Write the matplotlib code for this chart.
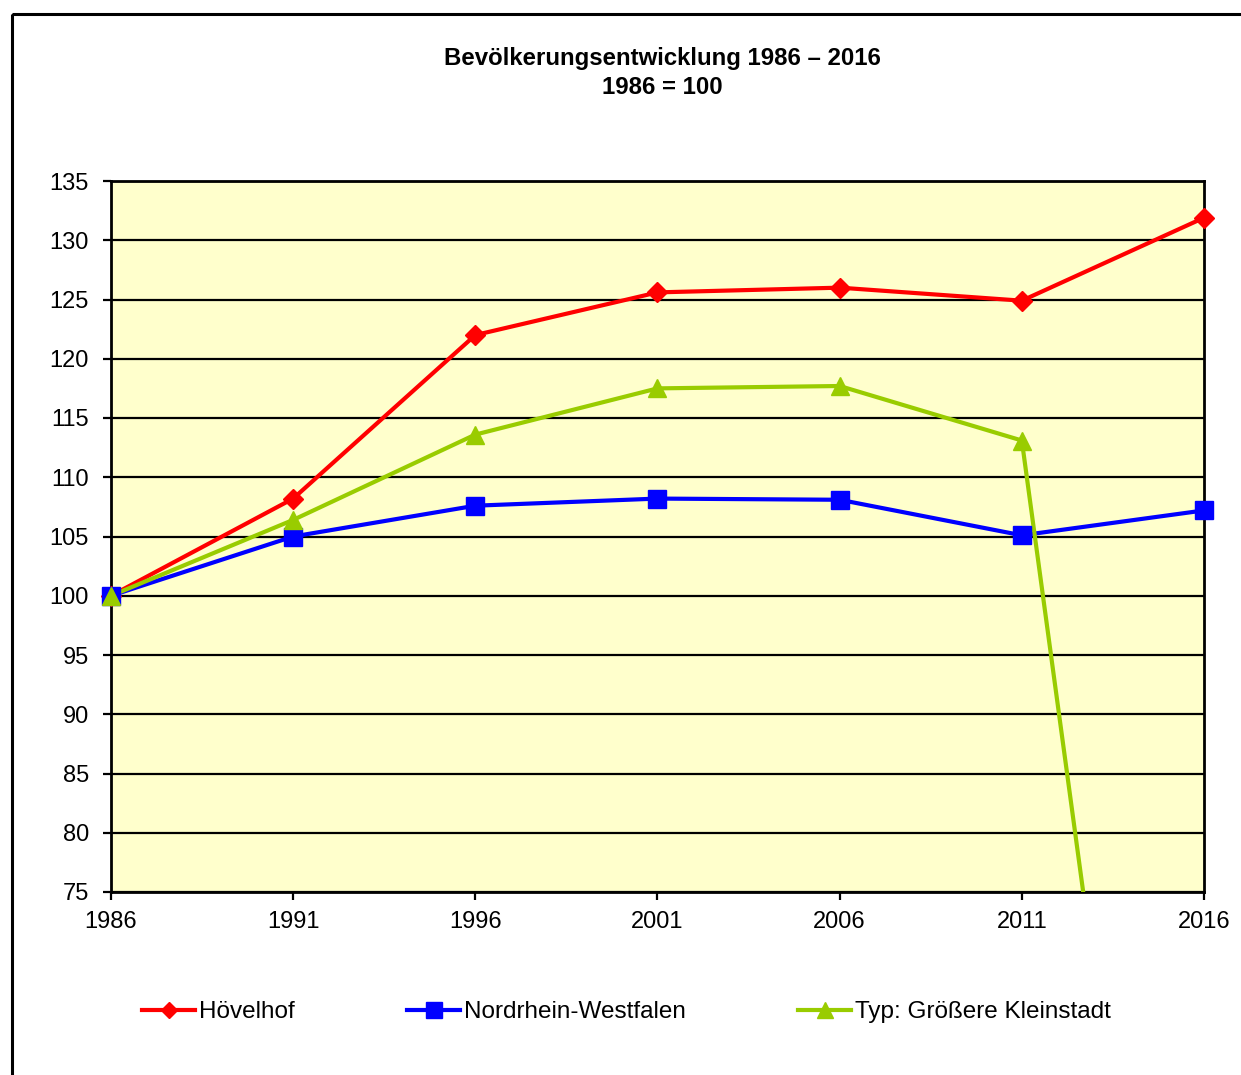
import matplotlib
matplotlib.use('Agg')
import matplotlib.pyplot as plt
from matplotlib.patches import Rectangle

plt.rcParams['font.family'] = ['Liberation Sans', 'DejaVu Sans']

years = [1986, 1991, 1996, 2001, 2006, 2011, 2016]
hoevelhof = [100, 108.2, 122.0, 125.6, 126.0, 124.9, 131.9]
nrw = [100, 105.0, 107.6, 108.2, 108.1, 105.1, 107.2]
kleinstadt = [100, 106.4, 113.6, 117.5, 117.7, 113.1, 0]  # 2016 missing -> 0 like in the source

W, H = 1241, 1075
fig = plt.figure(figsize=(W / 100, H / 100), dpi=100)

# outer frame (cut at the right and bottom edge)
fig.patches.append(Rectangle((12 / W, 1 - 14 / H), 2, -2, transform=fig.transFigure,
                             fill=False, edgecolor='black', linewidth=2.2))

ax = fig.add_axes([111 / W, 1 - 892 / H, (1204 - 111) / W, (892 - 181) / H])
ax.set_facecolor('#FFFFCC')
ax.set_xlim(1986, 2016)
ax.set_ylim(75, 135)

series = [
    (hoevelhof, '#FF0000', 'D', 10, 'Hövelhof'),
    (nrw, '#0000FF', 's', 13, 'Nordrhein-Westfalen'),
    (kleinstadt, '#99CC00', '^', 13, 'Typ: Größere Kleinstadt'),
]
handles = []
for vals, col, mk, ms, name in series:
    ax.plot(years, vals, color=col, lw=3, zorder=3)
    # markers only for points inside the axis range, not clipped at the edges
    inside = [(x, v) for x, v in zip(years, vals) if 75 <= v <= 135]
    ax.plot([p[0] for p in inside], [p[1] for p in inside], ls='none', marker=mk, ms=ms,
            color=col, clip_on=False, zorder=4)
    h, = ax.plot([], [], color=col, lw=3, marker=mk, ms=ms)
    handles.append((h, name))

ax.set_xticks(years)
ax.set_yticks(range(75, 136, 5))
ax.yaxis.grid(True, color='black', linewidth=1.6)
ax.set_axisbelow(True)
for sp in ax.spines.values():
    sp.set_linewidth(2)
ax.tick_params(axis='both', direction='out', length=6, width=1.6, labelsize=17)
ax.tick_params(axis='y', pad=10)
ax.tick_params(axis='x', pad=8)

fig.text(662 / W, 1 - 59 / H, 'Bevölkerungsentwicklung 1986 – 2016', ha='center', va='center',
         fontsize=17.3, fontweight='bold')
fig.text(662 / W, 1 - 87 / H, '1986 = 100', ha='center', va='center',
         fontsize=17.3, fontweight='bold')

# legend entries placed one by one
for (h, name), x in zip(handles, [120, 385, 776]):
    fig.legend(handles=[h], labels=[name], loc='center left', bbox_to_anchor=(x / W, 1 - 1012 / H),
               frameon=False, fontsize=17.5, handlelength=2.2, handletextpad=0.15,
               markerscale=0.85)

fig.savefig('out.png', dpi=100)
